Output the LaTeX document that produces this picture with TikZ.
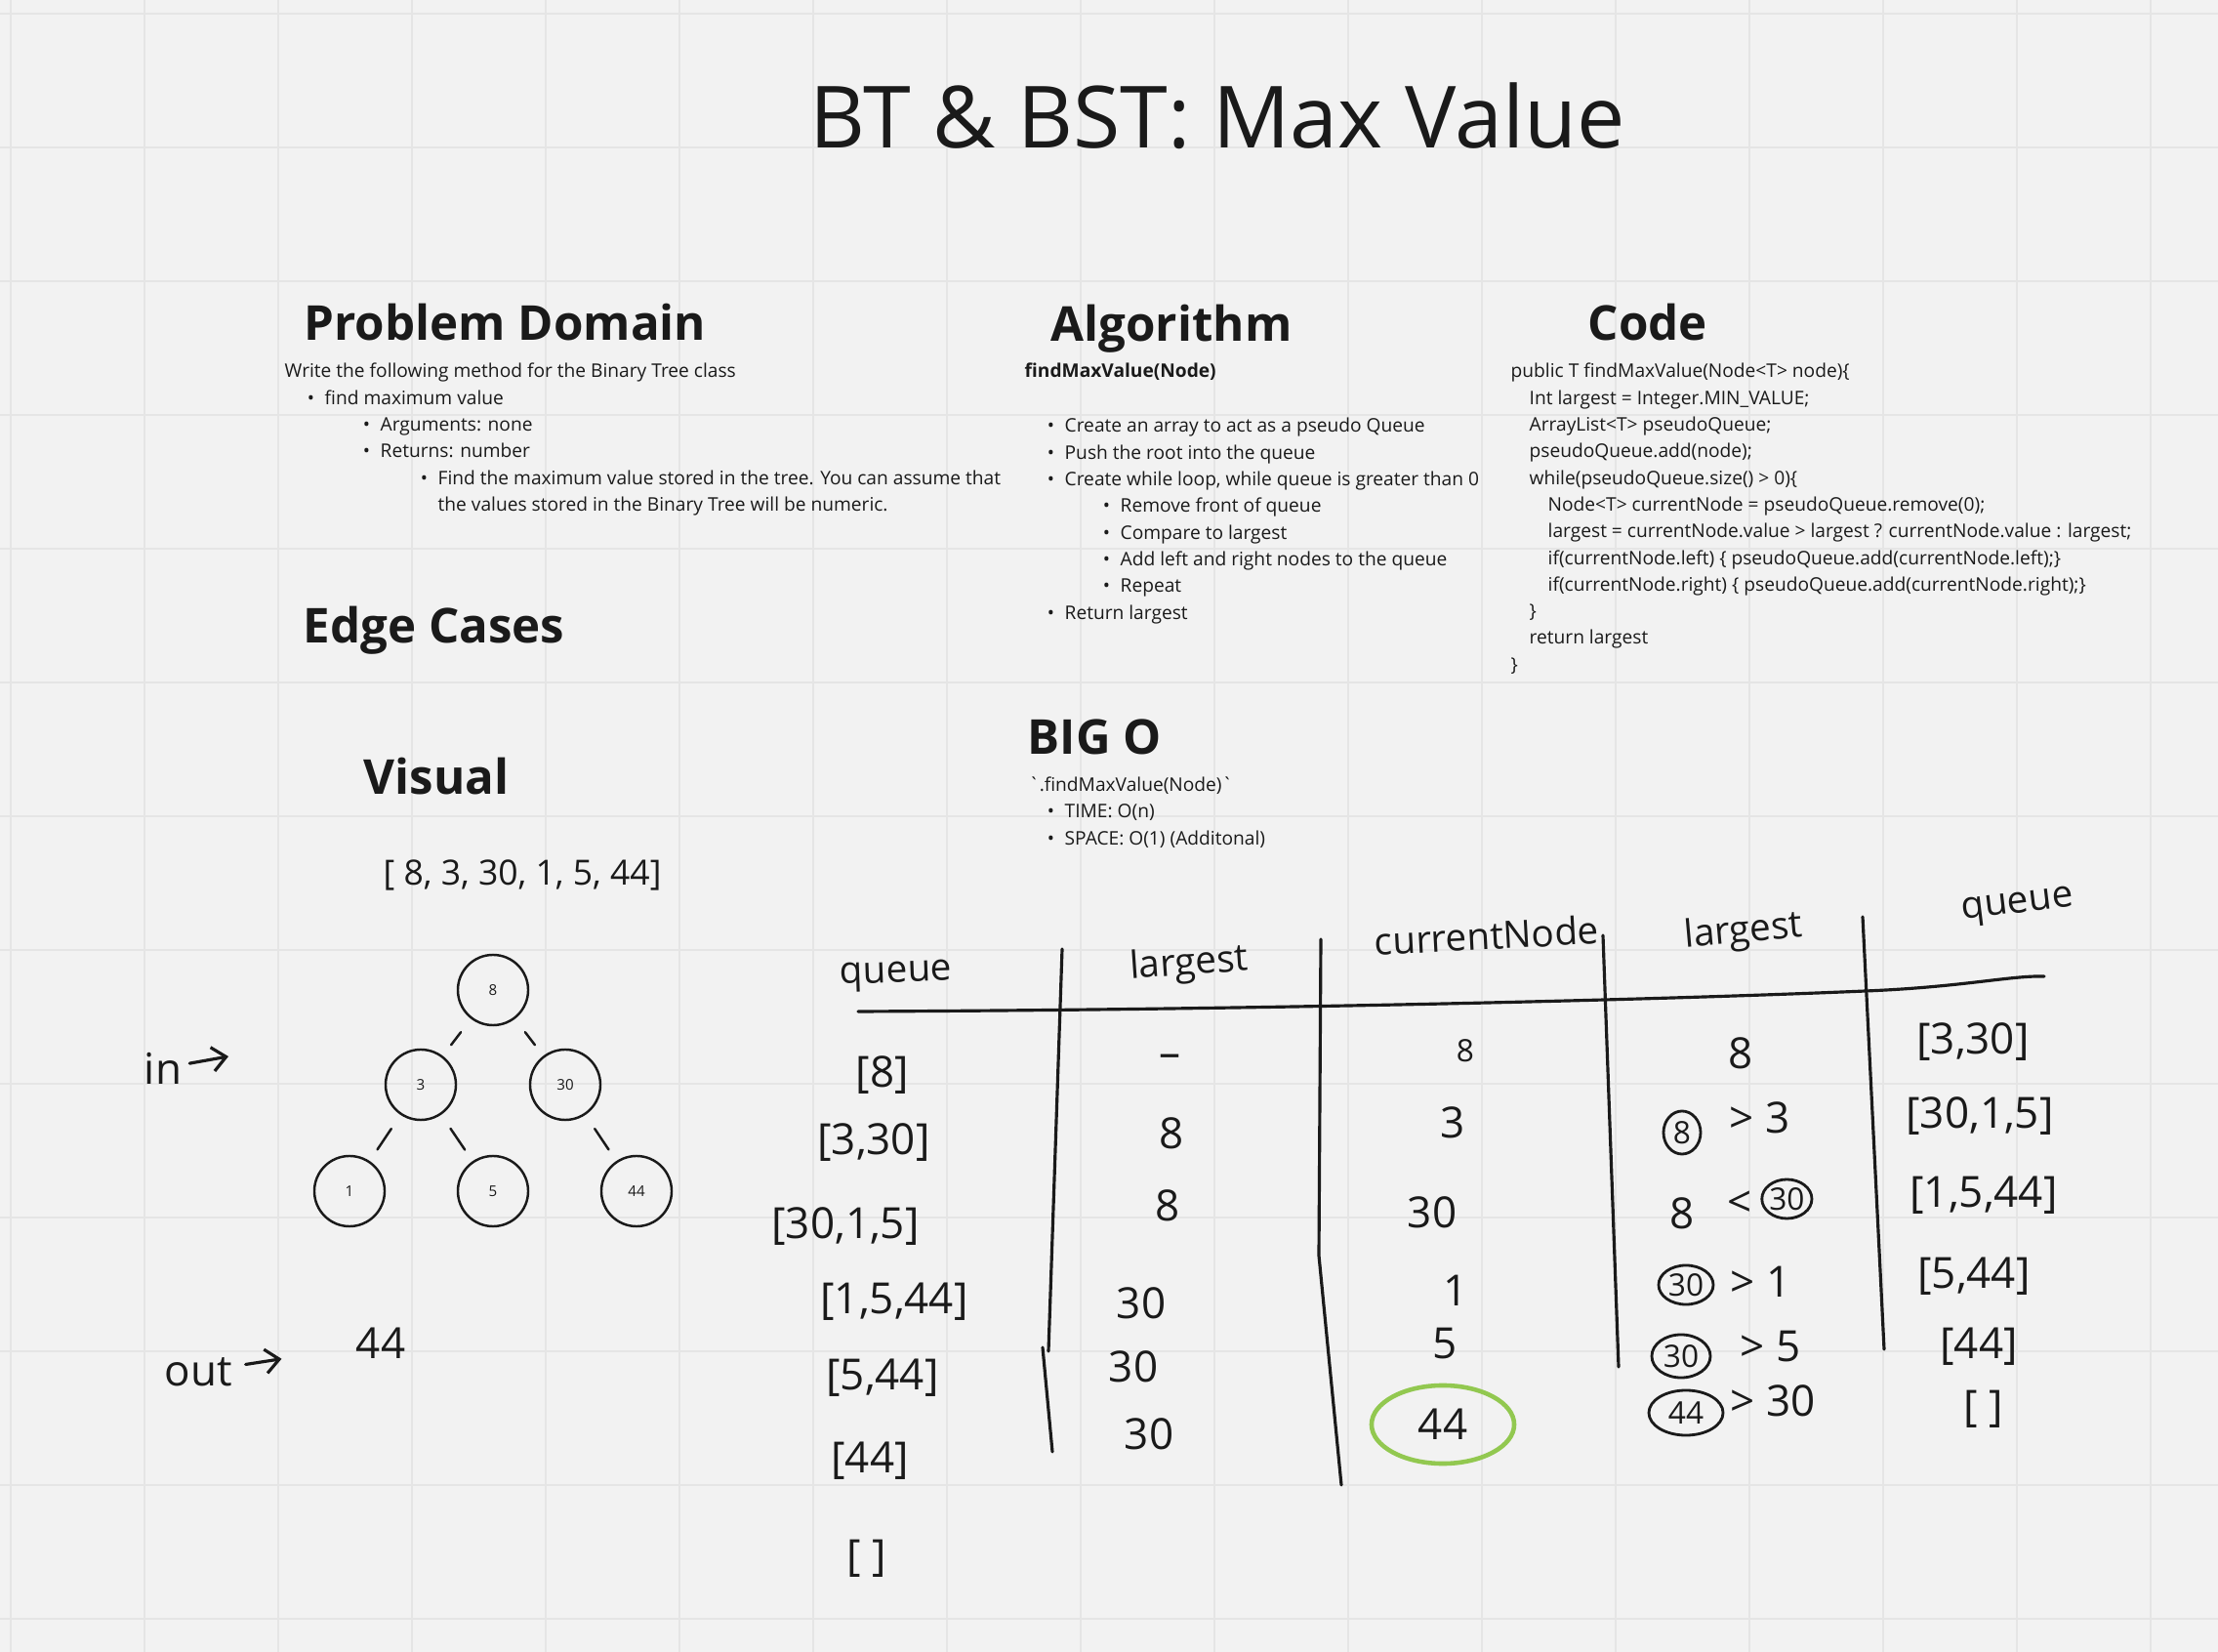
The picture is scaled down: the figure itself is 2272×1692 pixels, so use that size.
\documentclass[tikz,border=0pt]{standalone}
\usepackage{fontspec}
\setmainfont{Open Sans}
\usepackage{graphicx}
\usetikzlibrary{shapes.geometric, arrows.meta, positioning}
\definecolor{boardbg}{RGB}{242,242,242}
\definecolor{gridgray}{RGB}{229,229,229}
\definecolor{ink}{RGB}{26,26,26}
\definecolor{markgreen}{RGB}{146,200,80}
\newcommand{\bul}{\llap{\makebox[5.1pt][l]{\textbullet}}}

\begin{document}
\begin{tikzpicture}[x=0.01cm, y=-0.01cm,
        body/.style={anchor=base west, inner sep=0pt, text=ink, font=\fontsize{5.45}{6.5}\selectfont},
        heading/.style={anchor=base west, inner sep=0pt, text=ink, font=\fontsize{14}{17}\selectfont\bfseries},
        hand/.style={text=ink, inner sep=1pt, font=\fontsize{12.5}{15}\selectfont},
        handhead/.style={hand, font=\fontsize{11}{13}\selectfont},
        handline/.style={draw=ink, line width=0.9pt, line cap=round, line join=round},
        handarrow/.style={handline, -{Straight Barb[length=4pt, width=7pt]}},
        circled/.style={ellipse, draw=ink, line width=0.8pt, inner sep=0pt, text=ink, font=\fontsize{9}{11}\selectfont},
        treenode/.style={circle, draw=ink, line width=0.7pt, minimum size=0.72cm, inner sep=0pt, text=ink, font=\fontsize{4.3}{5}\selectfont},
        edge/.style={draw=ink, line width=0.7pt, line cap=round, shorten <=0.17cm, shorten >=0.14cm}
    ]
        % Board and grid
        \useasboundingbox (0,0) rectangle (2272,1692);
        \fill[boardbg] (0,0) rectangle (2272,1692);
        \foreach \gx in {11,148,...,2272} \draw[gridgray, line width=0.4pt] (\gx,0) -- (\gx,1692);
        \foreach \gy in {14,151,...,1692} \draw[gridgray, line width=0.6pt] (0,\gy) -- (2272,\gy);

        % Title
        \node[anchor=base west, inner sep=0pt, text=ink, font=\fontsize{25}{30}\selectfont] (title) at (829,152) {BT \& BST: Max Value};

        % Headings
        \node[heading] (pdhead) at (311,349) {Problem Domain};
        \node[heading] (alghead) at (1076,350) {Algorithm};
        \node[heading] (codehead) at (1626,349) {Code};
        \node[heading] (edgehead) at (310,659) {Edge Cases};
        \node[heading] (vishead) at (372,814) {Visual};
        \node[heading] (bigohead) at (1052,773) {BIG O};

        % Problem Domain
        \foreach \lx/\txt [count=\n from 0] in {291/{Write the following method for the Binary Tree class},
            332/{\bul find maximum value}, 389/{\bul Arguments: none}, 389/{\bul Returns: number},
            448/{\bul Find the maximum value stored in the tree. You can assume that},
            448/{the values stored in the Binary Tree will be numeric.}}
            \node[body] at (\lx, 387+27.3*\n) {\txt};

        % Algorithm
        \node[body, font=\fontsize{5.45}{6.5}\selectfont\bfseries] (algsig) at (1049,387) {findMaxValue(Node)};
        \foreach \lx/\txt [count=\n from 0] in {1090/{\bul Create an array to act as a pseudo Queue},
            1090/{\bul Push the root into the queue}, 1090/{\bul Create while loop, while queue is greater than 0},
            1147/{\bul Remove front of queue}, 1147/{\bul Compare to largest},
            1147/{\bul Add left and right nodes to the queue}, 1147/{\bul Repeat}, 1090/{\bul Return largest}}
            \node[body] at (\lx, 443+27.3*\n) {\txt};

        % Code
        \foreach \lx/\txt [count=\n from 0] in {1547/{public T findMaxValue(Node<T> node)\{},
            1566/{Int largest = Integer.MIN\_VALUE;}, 1566/{ArrayList<T> pseudoQueue;},
            1566/{pseudoQueue.add(node);}, 1566/{while(pseudoQueue.size() > 0)\{},
            1585/{Node<T> currentNode = pseudoQueue.remove(0);},
            1585/{largest = currentNode.value > largest ? currentNode.value : largest;},
            1585/{if(currentNode.left) \{ pseudoQueue.add(currentNode.left);\}},
            1585/{if(currentNode.right) \{ pseudoQueue.add(currentNode.right);\}},
            1566/{\}}, 1566/{return largest}, 1547/{\}}}
            \node[body] at (\lx, 387+27.3*\n) {\txt};

        % BIG O
        \node[body] (bigosig) at (1053,811) {\textasciigrave.findMaxValue(Node)\textasciigrave};
        \node[body] (bigotime) at (1090,838) {\bul TIME: O(n)};
        \node[body] (bigospace) at (1090,866) {\bul SPACE: O(1) (Additonal)};

        % Visual
        \node[anchor=base west, inner sep=0pt, text=ink, font=\fontsize{10.1}{12}\selectfont] (arr) at (392,907) {[ 8, 3, 30, 1, 5, 44]};
        \node[treenode] (n8) at (505,1014) {8};
        \node[treenode] (n3) at (431,1111) {3};
        \node[treenode] (n30) at (579,1111) {30};
        \node[treenode] (n1) at (358,1220) {1};
        \node[treenode] (n5) at (505,1220) {5};
        \node[treenode] (n44) at (652,1220) {44};
        \draw[edge] (n8) -- (n3);
        \draw[edge] (n8) -- (n30);
        \draw[edge] (n3) -- (n1);
        \draw[edge] (n3) -- (n5);
        \draw[edge] (n30) -- (n44);

        % in / out notes
        \node[hand] (inlabel) at (167,1094) {in};
        \coordinate (inend) at (234,1082);
        \draw[handarrow, shorten <=0.04cm] (inlabel) -- (inend);
        \node[hand] (outlabel) at (203,1405) {out};
        \node[hand] (outval) at (390,1376) {44};
        \draw[handarrow, shorten <=0.1cm, shorten >=0.73cm] (outlabel) -- (outval);

        % Trace table: rules
        \draw[handline] (879,1036) .. controls (1300,1034) and (1700,1024) .. (1911,1015)
            .. controls (2010,1011) and (2060,999) .. (2094,1000);
        \draw[handline] (1088,972) -- (1074,1384);
        \draw[handline] (1068,1380) -- (1078,1487);
        \draw[handline] (1353,962) -- (1351,1286) -- (1374,1521);
        \draw[handline] (1642,958) -- (1658,1400);
        \draw[handline] (1908,939) -- (1930,1382);

        % Trace table: headers
        \node[handhead, rotate=2] (qhead) at (918,1000) {queue};
        \node[handhead, rotate=4] (lhead) at (1218,988) {largest};
        \node[handhead, rotate=3] (cnhead) at (1523,958) {currentNode};
        \node[handhead, rotate=5] (lhead2) at (1786,955) {largest};
        \node[handhead, rotate=7] (qhead2) at (2067,929) {queue};

        % Trace table: queue before
        \foreach \px/\py/\txt [count=\i] in {904/1101/{[8]}, 895/1170/{[3,30]}, 866/1256/{[30,1,5]},
            916/1333/{[1,5,44]}, 904/1411/{[5,44]}, 891/1496/{[44]}, 888/1596/{[ ]}}
            \node[hand] (q\i) at (\px,\py) {\txt};

        % Trace table: largest
        \foreach \px/\py/\txt [count=\i] in {1198/1087/{–}, 1200/1161/8, 1196/1235/8,
            1169/1335/30, 1161/1400/30, 1177/1469/30}
            \node[hand] (l\i) at (\px,\py) {\txt};

        % Trace table: currentNode
        \node[hand, font=\fontsize{9}{11}\selectfont] (c1) at (1501,1076) {8};
        \foreach \px/\py/\txt [count=\i from 2] in {1488/1150/3, 1467/1242/30, 1491/1322/1, 1480/1376/5}
            \node[hand] (c\i) at (\px,\py) {\txt};
        \node[hand, ellipse, draw=markgreen, line width=1.3pt, minimum width=1.46cm, minimum height=0.8cm] (c6) at (1478,1459) {44};

        % Trace table: comparisons
        \node[hand] (m1) at (1783,1079) {8};
        \node[circled, minimum width=0.38cm, minimum height=0.44cm] (m2) at (1723,1160) {8};
        \node[hand, right=0.24cm of m2, yshift=0.15cm] (m2cmp) {> 3};
        \node[hand] (m3) at (1723,1243) {8};
        \node[hand, right=0.25cm of m3, yshift=0.1cm] (m3cmp) {<};
        \node[circled, right=0.05cm of m3cmp, yshift=0.05cm, minimum width=0.44cm, minimum height=0.4cm] (m3c) {30};
        \node[circled, minimum width=0.56cm, minimum height=0.4cm] (m4) at (1727,1316) {30};
        \node[hand, right=0.12cm of m4, yshift=0.03cm] (m4cmp) {> 1};
        \node[circled, minimum width=0.6cm, minimum height=0.44cm] (m5) at (1722,1389) {30};
        \node[hand, right=0.25cm of m5, yshift=0.1cm] (m5cmp) {> 5};
        \node[circled, minimum width=0.76cm, minimum height=0.46cm] (m6) at (1727,1447) {44};
        \node[hand, right=0.02cm of m6, yshift=0.12cm] (m6cmp) {> 30};

        % Trace table: queue after
        \foreach \px/\py/\txt [count=\i] in {2021/1067/{[3,30]}, 2028/1143/{[30,1,5]}, 2032/1224/{[1,5,44]},
            2022/1307/{[5,44]}, 2027/1379/{[44]}, 2032/1443/{[ ]}}
            \node[hand] (r\i) at (\px,\py) {\txt};
\end{tikzpicture}
\end{document}
